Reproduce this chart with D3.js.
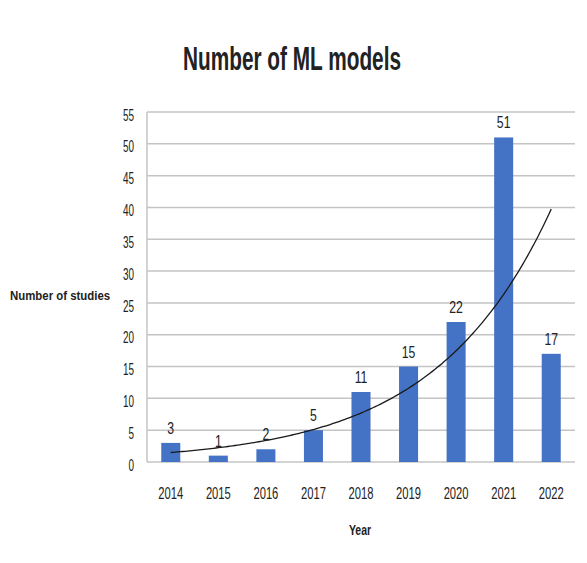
<!DOCTYPE html>
<html lang="en">
<head>
<meta charset="UTF-8">
<title>Number of ML models</title>
<script src="https://d3js.org/d3.v7.min.js"></script>
<style>
  body { margin: 0; background: #fff; }
  text { font-family: "Liberation Sans", Arial, sans-serif; fill: #222; }
</style>
</head>
<body>
<script>
    const width = 587;
    const height = 563;

    // data
    const years = ["2014", "2015", "2016", "2017", "2018", "2019", "2020", "2021", "2022"];
    const studies = [3, 1, 2, 5, 11, 15, 22, 51, 17];
    const yTicks = [0, 5, 10, 15, 20, 25, 30, 35, 40, 45, 50, 55];

    const margin = {top: 112, right: 12, bottom: 101, left: 147};

    const svg = d3.select("body").append("svg")
        .attr("width", width).attr("height", height);

    // squeeze text horizontally to look like the narrow font of the original
    function condense(sel, f) {
        sel.each(function() {
            const w = this.getComputedTextLength();
            d3.select(this)
                .attr("textLength", w * f)
                .attr("lengthAdjust", "spacingAndGlyphs");
        });
    }

    const x = d3.scaleBand()
        .domain(years)
        .range([margin.left, width - margin.right])
        .paddingInner(0.6)
        .paddingOuter(0.3);

    const y = d3.scaleLinear()
        .domain([0, 55])
        .range([height - margin.bottom, margin.top]);

    // gridlines
    svg.append("g")
        .selectAll("line")
        .data(yTicks)
        .join("line")
        .attr("x1", margin.left).attr("x2", width - margin.right)
        .attr("y1", d => y(d)).attr("y2", d => y(d))
        .style("stroke", "#c4c4c4")
        .style("stroke-width", 1.5);

    // left axis line
    svg.append("line")
        .attr("x1", margin.left).attr("x2", margin.left)
        .attr("y1", y(55)).attr("y2", y(0))
        .style("stroke", "#c4c4c4")
        .style("stroke-width", 1.5);

    // y tick labels
    svg.append("g")
        .selectAll("text")
        .data(yTicks)
        .join("text")
        .attr("x", margin.left - 13)
        .attr("y", d => y(d) + 3)
        .attr("dy", "0.35em")
        .attr("text-anchor", "end")
        .style("font-size", "16px")
        .text(d => d)
        .call(condense, 0.62);

    // bars
    svg.append("g")
        .selectAll("rect")
        .data(studies)
        .join("rect")
        .attr("x", (d, i) => x(years[i]))
        .attr("y", d => y(d))
        .attr("width", x.bandwidth())
        .attr("height", d => y(0) - y(d))
        .style("fill", "#4472c4");

    // exponential trendline, least squares on ln(y)
    const n = studies.length;
    const xs = d3.range(1, n + 1);
    const ln = studies.map(v => Math.log(v));
    const mx = d3.mean(xs), ml = d3.mean(ln);
    const b = d3.sum(xs, (v, i) => (v - mx) * (ln[i] - ml)) / d3.sum(xs, v => (v - mx) * (v - mx));
    const a = Math.exp(ml - b * mx);

    const xPos = d3.scaleLinear()
        .domain([1, n])
        .range([x(years[0]) + x.bandwidth() / 2, x(years[n - 1]) + x.bandwidth() / 2]);

    const trend = d3.range(1, n + 0.001, 0.05).map(t => [xPos(t), y(a * Math.exp(b * t))]);

    svg.append("path")
        .datum(trend)
        .attr("d", d3.line())
        .style("fill", "none")
        .style("stroke", "#1a1a1a")
        .style("stroke-width", 1.3);

    // data labels
    svg.append("g")
        .selectAll("text")
        .data(studies)
        .join("text")
        .attr("x", (d, i) => x(years[i]) + x.bandwidth() / 2)
        .attr("y", d => y(d) - 9)
        .attr("text-anchor", "middle")
        .style("font-size", "17px")
        .text(d => d)
        .call(condense, 0.72);

    // x tick labels
    svg.append("g")
        .selectAll("text")
        .data(years)
        .join("text")
        .attr("x", d => x(d) + x.bandwidth() / 2)
        .attr("y", y(0) + 37)
        .attr("text-anchor", "middle")
        .style("font-size", "16px")
        .text(d => d)
        .call(condense, 0.7);

    // axis titles
    svg.append("text")
        .attr("x", 360).attr("y", 535)
        .attr("text-anchor", "middle")
        .style("font-size", "14px")
        .style("font-weight", "bold")
        .text("Year")
        .call(condense, 0.75);

    svg.append("text")
        .attr("x", 10).attr("y", 300)
        .style("font-size", "12px")
        .style("font-weight", "bold")
        .text("Number of studies")
        .call(condense, 0.95);

    // title
    svg.append("text")
        .attr("x", 292).attr("y", 70)
        .attr("text-anchor", "middle")
        .style("font-size", "33px")
        .style("font-weight", "bold")
        .text("Number of ML models")
        .attr("textLength", 218)
        .attr("lengthAdjust", "spacingAndGlyphs");
</script>
</body>
</html>
